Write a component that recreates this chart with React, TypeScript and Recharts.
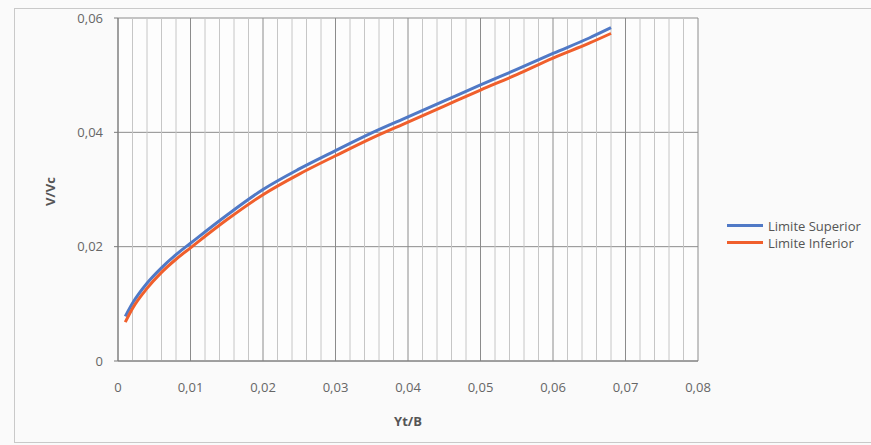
import { LineChart, Line, XAxis, YAxis, CartesianGrid, ReferenceLine } from 'recharts'

const ytb = [0.001, 0.002, 0.004, 0.006, 0.008, 0.01, 0.015, 0.02, 0.025, 0.03, 0.035, 0.04, 0.045, 0.05, 0.055, 0.06, 0.065, 0.068]
const limiteSuperior = [0.0078, 0.0101, 0.0136, 0.0163, 0.0186, 0.0206, 0.0255, 0.03, 0.0336, 0.0368, 0.0399, 0.0427, 0.0455, 0.0483, 0.051, 0.0538, 0.0565, 0.0583]
const limiteInferior = [0.0068, 0.0092, 0.0127, 0.0155, 0.0178, 0.0198, 0.0247, 0.0291, 0.0327, 0.0359, 0.039, 0.0418, 0.0446, 0.0474, 0.0501, 0.053, 0.0556, 0.0573]

const xTicks = [0, 0.01, 0.02, 0.03, 0.04, 0.05, 0.06, 0.07, 0.08]
const yTicks = [0, 0.02, 0.04, 0.06]
const minorX = [0.002, 0.004, 0.006, 0.008, 0.012, 0.014, 0.016, 0.018, 0.022, 0.024, 0.026, 0.028, 0.032, 0.034, 0.036, 0.038, 0.042, 0.044, 0.046, 0.048, 0.052, 0.054, 0.056, 0.058, 0.062, 0.064, 0.066, 0.068, 0.072, 0.074, 0.076, 0.078]

const data = ytb.map((x, i) => ({ x, sup: limiteSuperior[i], inf: limiteInferior[i] }))

const BLUE = '#5079c6'
const ORANGE = '#f05f2c'
const FONT = '"Open Sans", sans-serif'

const series = [
  { key: 'sup', name: 'Limite Superior', color: BLUE },
  { key: 'inf', name: 'Limite Inferior', color: ORANGE },
]

const fmt = (v: number) => (v === 0 ? '0' : v.toFixed(2).replace('.', ','))

export default function App() {
  return (
    <div style={{ position: 'absolute', left: 0, top: 0, width: 871, height: 445, background: '#fafafa', overflow: 'hidden' }}>
      <div style={{ position: 'absolute', left: 14, top: 8, width: 870, height: 433, border: '1px solid #c9c9c9' }} />
      <div style={{ position: 'absolute', left: 0, top: 0 }}>
        <LineChart width={871} height={445} data={data} margin={{ top: 18, right: 173, bottom: 0, left: 0 }}>
          <CartesianGrid stroke="#8c8c8c" strokeWidth={1} fill="#fdfdfd" />
          {minorX.map((m) => (
            <ReferenceLine key={m} x={m} stroke="#c6c6c6" strokeWidth={1} />
          ))}
          <XAxis
            dataKey="x"
            type="number"
            domain={[0, 0.08]}
            ticks={xTicks}
            tickFormatter={fmt}
            height={84}
            tickLine={false}
            tickSize={6}
            tickMargin={16}
            axisLine={{ stroke: '#7a7a7a' }}
            tick={{ fill: '#666', fontSize: 13, fontFamily: FONT }}
            label={{ value: 'Yt/B', position: 'insideBottom', offset: 19, fill: '#555', fontSize: 13, fontWeight: 'bold', fontFamily: FONT }}
          />
          <YAxis
            type="number"
            domain={[0, 0.06]}
            ticks={yTicks}
            tickFormatter={fmt}
            width={118}
            tickSize={4}
            tickMargin={11}
            tickLine={{ stroke: '#7a7a7a' }}
            axisLine={{ stroke: '#7a7a7a' }}
            tick={{ fill: '#666', fontSize: 13, fontFamily: FONT }}
            label={{
              content: ({ viewBox }: any) => {
                const cx = 50
                const cy = viewBox.y + viewBox.height / 2 + 2
                return (
                  <text x={cx} y={cy} transform={`rotate(-90 ${cx} ${cy})`} textAnchor="middle" dominantBaseline="central" fill="#555" fontSize={13} fontWeight="bold" fontFamily={FONT}>
                    V/Vc
                  </text>
                )
              },
            }}
          />
          {series.map((s) => (
            <Line key={s.key} type="monotone" dataKey={s.key} name={s.name} stroke={s.color} strokeWidth={3} dot={false} isAnimationActive={false} />
          ))}
        </LineChart>
      </div>
      {/* legend kept outside the chart so it doesn't shrink the plot */}
      <div style={{ position: 'absolute', left: 727, top: 217, fontFamily: FONT, fontSize: 13, color: '#555' }}>
        {series.map((s) => (
          <div key={s.key} style={{ display: 'flex', alignItems: 'center', height: 17, whiteSpace: 'nowrap' }}>
            <span style={{ display: 'inline-block', width: 36, height: 3, background: s.color, marginRight: 5 }} />
            <span>{s.name}</span>
          </div>
        ))}
      </div>
    </div>
  )
}
